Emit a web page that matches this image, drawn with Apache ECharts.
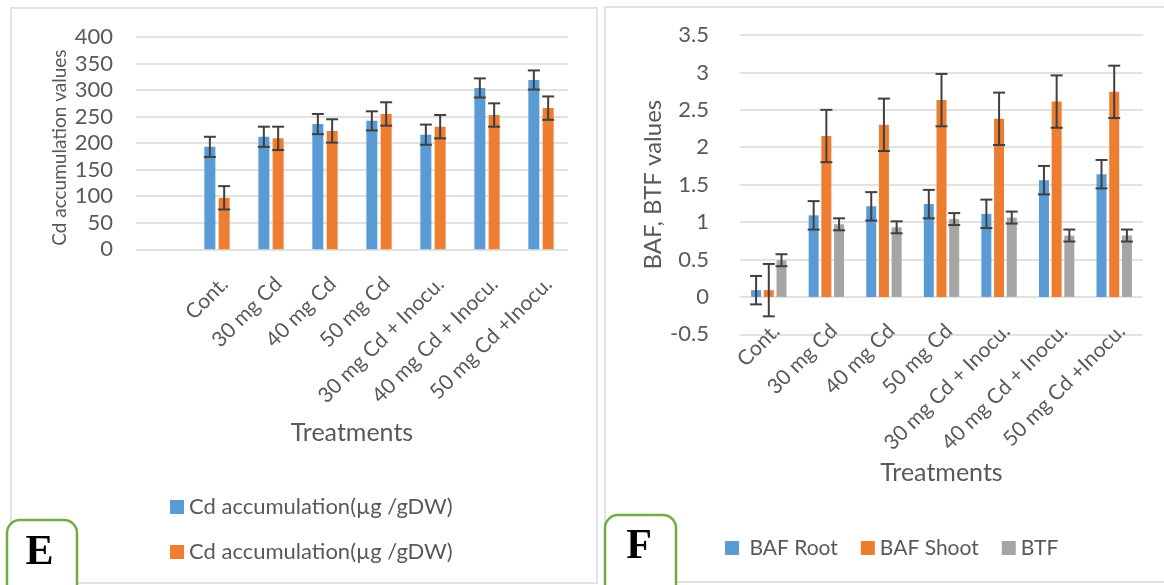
<!DOCTYPE html>
<html>
<head>
<meta charset="utf-8">
<script src="https://cdn.jsdelivr.net/npm/echarts@6/dist/echarts.min.js"></script>
<style>
  html, body { margin: 0; padding: 0; background: #fff; }
  #chart { width: 1164px; height: 585px; }
</style>
</head>
<body>
<div id="chart"></div>
<script>
// treatments on the x axis (both panels)
const treatments = ['Cont.', '30 mg Cd', '40 mg Cd', '50 mg Cd', '30 mg Cd + Inocu.', '40 mg Cd + Inocu.', '50 mg Cd +Inocu.'];

// panel E: Cd accumulation
const cdNames = ['Cd accumulation(µg /gDW)', 'Cd accumulation(µg /gDW) '];
const cdBlue = [193, 212, 236, 242, 216, 304, 319];
const cdBlueErr = [19, 19, 19, 18, 19, 18, 18];
const cdOrange = [97, 209, 223, 255, 231, 253, 266];
const cdOrangeErr = [22, 22, 22, 22, 22, 22, 22];

// panel F: BAF / BTF
const bafNames = ['BAF Root', 'BAF Shoot', 'BTF'];
const bafRoot = [0.09, 1.09, 1.21, 1.24, 1.11, 1.56, 1.64];
const bafRootErr = [0.19, 0.19, 0.19, 0.19, 0.19, 0.19, 0.19];
const bafShoot = [0.09, 2.15, 2.30, 2.63, 2.38, 2.61, 2.74];
const bafShootErr = [0.35, 0.35, 0.35, 0.35, 0.35, 0.35, 0.35];
const btf = [0.49, 0.97, 0.93, 1.04, 1.06, 0.82, 0.82];
const btfErr = [0.08, 0.08, 0.08, 0.08, 0.08, 0.08, 0.08];

const FONT = 'Lato';
const TXT = '#595959';
const GRIDC = '#D9D9D9';
const colors = ['#5B9BD5', '#ED7D31', '#A5A5A5'];

// bar geometry, also used to place the error bars
const leftBarW = 11, leftGap = 0.3;
const rightBarW = 10, rightGap = 0.27;

function barOffset(k, n, w, gap) {
  const total = n * w + (n - 1) * gap * w;
  return -total / 2 + k * (w + gap * w) + w / 2;
}

function errorSeries(gridIdx, values, errs, shift, offset) {
  return {
    type: 'custom',
    xAxisIndex: gridIdx,
    yAxisIndex: gridIdx,
    silent: true,
    z: 5,
    encode: { x: 0, y: [1, 2] },
    data: values.map((v, i) => [i + shift, v - errs[i], v + errs[i]]),
    renderItem: function (params, api) {
      const lo = api.coord([api.value(0), api.value(1)]);
      const hi = api.coord([api.value(0), api.value(2)]);
      const x = lo[0] + offset;
      const st = { stroke: '#404040', lineWidth: 2 };
      return {
        type: 'group',
        children: [
          { type: 'line', shape: { x1: x, y1: lo[1], x2: x, y2: hi[1] }, style: st },
          { type: 'line', shape: { x1: x - 6, y1: hi[1], x2: x + 6, y2: hi[1] }, style: st },
          { type: 'line', shape: { x1: x - 6, y1: lo[1], x2: x + 6, y2: lo[1] }, style: st }
        ]
      };
    }
  };
}

const tickStyle = { fontFamily: FONT, fontSize: 22, color: TXT };
const catStyle = { fontFamily: FONT, fontSize: 21, color: TXT };

const chart = echarts.init(document.getElementById('chart'));

chart.setOption({
  animation: false,
  backgroundColor: '#fff',
  textStyle: { fontFamily: FONT },
  grid: [
    { left: 136, top: 37, width: 432, height: 212.3, containLabel: false, outerBoundsMode: 'none' },
    { left: 740, top: 35, width: 403, height: 299.3, containLabel: false, outerBoundsMode: 'none' }
  ],
  xAxis: [
    {
      type: 'category', gridIndex: 0,
      data: [''].concat(treatments),
      axisLine: { show: false }, axisTick: { show: false },
      axisLabel: Object.assign({ interval: 0, rotate: 45, margin: 24, verticalAlign: 'top' }, catStyle),
      name: 'Treatments', nameLocation: 'middle', nameGap: 171, nameMoveOverlap: false,
      nameTextStyle: { fontFamily: FONT, fontSize: 25, color: TXT }
    },
    {
      type: 'category', gridIndex: 1,
      data: treatments,
      axisLine: { show: false }, axisTick: { show: false },
      axisLabel: Object.assign({ interval: 0, rotate: 45, margin: -14, verticalAlign: 'top' }, catStyle),
      name: 'Treatments', nameLocation: 'middle', nameGap: 126, nameMoveOverlap: false,
      nameTextStyle: { fontFamily: FONT, fontSize: 25, color: TXT }
    }
  ],
  yAxis: [
    {
      type: 'value', gridIndex: 0, min: 0, max: 400, interval: 50,
      axisLine: { show: false }, axisTick: { show: false },
      splitLine: { lineStyle: { color: GRIDC, width: 1.5 } },
      axisLabel: Object.assign({ margin: 23 }, tickStyle),
      name: 'Cd accumulation values', nameLocation: 'middle', nameGap: 67, nameMoveOverlap: false,
      nameTextStyle: { fontFamily: FONT, fontSize: 19, color: TXT, padding: [0, 9, 0, 0] }
    },
    {
      type: 'value', gridIndex: 1, min: -0.5, max: 3.5, interval: 0.5,
      axisLine: { show: false }, axisTick: { show: false },
      splitLine: { lineStyle: { color: GRIDC, width: 1.5 } },
      axisLabel: Object.assign({ margin: 31 }, tickStyle),
      name: 'BAF, BTF values', nameLocation: 'middle', nameGap: 75, nameMoveOverlap: false,
      nameTextStyle: { fontFamily: FONT, fontSize: 24, color: TXT }
    }
  ],
  legend: [
    {
      data: cdNames, orient: 'vertical', left: 165, top: 491,
      itemWidth: 14, itemHeight: 14, itemGap: 23, icon: 'rect',
      textStyle: { fontFamily: FONT, fontSize: 22, color: TXT, lineHeight: 22 }
    },
    {
      data: bafNames, orient: 'horizontal', left: 720, top: 532,
      itemWidth: 14, itemHeight: 14, itemGap: 23, icon: 'rect',
      formatter: n => n === 'BAF Root' ? ' ' + n : n,
      textStyle: { fontFamily: FONT, fontSize: 21, color: TXT, lineHeight: 22 }
    }
  ],
  series: [
    { name: cdNames[0], type: 'bar', xAxisIndex: 0, yAxisIndex: 0, data: [null].concat(cdBlue),
      barWidth: leftBarW, barGap: leftGap * 100 + '%', itemStyle: { color: colors[0] } },
    { name: cdNames[1], type: 'bar', xAxisIndex: 0, yAxisIndex: 0, data: [null].concat(cdOrange),
      barWidth: leftBarW, barGap: leftGap * 100 + '%', itemStyle: { color: colors[1] } },
    errorSeries(0, cdBlue, cdBlueErr, 1, barOffset(0, 2, leftBarW, leftGap)),
    errorSeries(0, cdOrange, cdOrangeErr, 1, barOffset(1, 2, leftBarW, leftGap)),

    { name: bafNames[0], type: 'bar', xAxisIndex: 1, yAxisIndex: 1, data: bafRoot,
      barWidth: rightBarW, barGap: rightGap * 100 + '%', itemStyle: { color: colors[0] } },
    { name: bafNames[1], type: 'bar', xAxisIndex: 1, yAxisIndex: 1, data: bafShoot,
      barWidth: rightBarW, barGap: rightGap * 100 + '%', itemStyle: { color: colors[1] } },
    { name: bafNames[2], type: 'bar', xAxisIndex: 1, yAxisIndex: 1, data: btf,
      barWidth: rightBarW, barGap: rightGap * 100 + '%', itemStyle: { color: colors[2] } },
    errorSeries(1, bafRoot, bafRootErr, 0, barOffset(0, 3, rightBarW, rightGap)),
    errorSeries(1, bafShoot, bafShootErr, 0, barOffset(1, 3, rightBarW, rightGap)),
    errorSeries(1, btf, btfErr, 0, barOffset(2, 3, rightBarW, rightGap))
  ],
  graphic: [
    // panel frames
    { type: 'rect', z: -10, shape: { x: 11, y: 8, width: 586, height: 575 },
      style: { fill: null, stroke: GRIDC, lineWidth: 1.5 } },
    { type: 'rect', z: -10, shape: { x: 605, y: 7, width: 570, height: 575 },
      style: { fill: null, stroke: GRIDC, lineWidth: 1.5 } },
    // panel letters
    { type: 'rect', z: 50, shape: { x: 7, y: 520, width: 70, height: 90, r: 13 },
      style: { fill: '#fff', stroke: '#70AD47', lineWidth: 2.5 } },
    { type: 'text', z: 51, x: 39.5, y: 574,
      style: { text: 'E', font: 'bold 42px "Liberation Serif"', fill: '#000', align: 'center', verticalAlign: 'bottom' } },
    { type: 'rect', z: 50, shape: { x: 605, y: 515, width: 71, height: 95, r: 13 },
      style: { fill: '#fff', stroke: '#70AD47', lineWidth: 2.5 } },
    { type: 'text', z: 51, x: 639, y: 568,
      style: { text: 'F', font: 'bold 42px "Liberation Serif"', fill: '#000', align: 'center', verticalAlign: 'bottom' } }
  ]
});
</script>
</body>
</html>
